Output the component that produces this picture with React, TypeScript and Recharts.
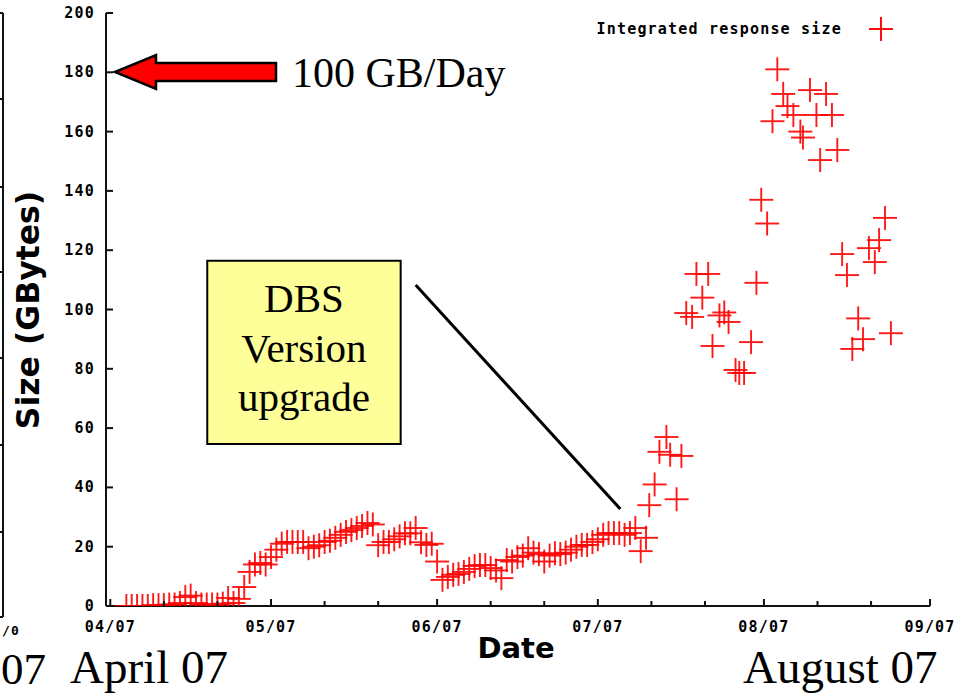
import { ScatterChart, Scatter, XAxis, YAxis, ReferenceArea, ReferenceLine } from 'recharts'

// days since 1 April 2007
const DAY = [
  3, 4, 5, 6, 7, 8, 9, 10, 11, 12, 13, 14, 15, 16, 17, 18, 19, 20, 21, 22,
  23, 24, 25, 26, 27, 28, 29, 30, 31, 32, 33, 34, 35, 36, 37, 38, 39, 40, 41, 42,
  43, 44, 45, 46, 47, 48, 49, 50, 51, 52, 53, 54, 55, 56, 57, 58, 59, 60, 61, 62,
  63, 64, 65, 66, 67, 68, 69, 70, 71, 72, 73, 74, 75, 76, 77, 78, 79, 80, 81, 82,
  83, 84, 85, 86, 87, 88, 89, 90, 91, 92, 93, 94, 95, 96, 97, 98, 99, 100,
  100.6, 101.6, 102.5, 103.8, 104.5, 105.7, 106.6, 107.5, 108.6, 109.4, 110.5, 111.6, 112.4, 113.7, 114.6, 115.4,
  116.7, 117.4, 118.3, 119.6, 120.6, 121.5, 122.6, 123.6, 124.5, 125.6, 126.4, 127.5, 128.8, 129.3, 130.6, 131.8,
  132.5, 133.6, 134.7, 135.7, 136.6, 137.5, 138.5, 139.6, 140.5, 141.6, 142.7, 143.5, 144.6, 145.7,
]

// integrated response size, GBytes
const GB = [
  0, 0, 0, 0, 0, 0.3, 0.3, 0.3, 0.5, 0.5, 1, 3, 3.5, 1, 0.5, 0.5, 0.5, 0.5, 0.8, 2.7,
  1, 2.4, 6.4, 11.5, 14, 14.5, 14, 16.5, 19, 21, 21.6, 21.6, 21.6, 21.6, 19.5, 20, 20.5, 21.6, 22, 23,
  24, 25, 25.6, 26.3, 27, 28, 27.5, 20.5, 21.6, 21.6, 22.5, 23.5, 24.5, 24.5, 26.3, 21.5, 20.6, 21, 15, 8.8,
  9.8, 10.5, 10.8, 11.5, 12.5, 13.5, 13.8, 13.8, 12.8, 12, 9.4, 15.5, 15, 16.5, 17, 19.5, 18, 17.5, 15, 17,
  17.8, 17.5, 18, 19, 20, 20.6, 20.6, 21.6, 22.5, 24, 24.6, 24.6, 24.6, 24, 24.6, 26.3, 18.5, 23,
  34, 41, 52, 57, 51, 36, 50.6, 98.8, 97.5, 112, 104, 112, 87.7, 98, 99, 95.8,
  79.6, 78.6, 78.6, 89, 109, 137, 129, 163.5, 181, 172.7, 168.6, 165.6, 160, 158, 174, 165.6,
  150.4, 172.7, 165.6, 153.8, 118.7, 111.6, 86.7, 97, 90, 120.7, 116, 123.4, 130.9, 92,
]

const MONTH_DAYS = [0, 30, 61, 91, 122, 153]
const MONTH_LABELS = ['04/07', '05/07', '06/07', '07/07', '08/07', '09/07']
const MINOR_DAYS = [10, 20, 40, 50, 71, 81, 101, 111, 132, 142]
const Y_TICKS = [0, 20, 40, 60, 80, 100, 120, 140, 160, 180, 200]

const points = DAY.map((d, i) => ({ day: d, size: GB[i] }))
const X_TICKS = [...MONTH_DAYS, ...MINOR_DAYS].sort((a, b) => a - b)
const X_DOMAIN = [-0.8, 153]

const RED = '#ff0000'
const AXIS = '#111'
const TICK_FONT = { fontFamily: '"DejaVu Sans Mono", monospace', fontWeight: 700, fontSize: 15, letterSpacing: 1.2, fill: '#000' }
const SERIF = '"Liberation Serif", "Times New Roman", serif'

const Plus = (p: any) => (
  <g stroke={RED} strokeWidth={1.9} opacity={0.9}>
    <line x1={p.cx - 12} x2={p.cx + 12} y1={p.cy} y2={p.cy} />
    <line x1={p.cx} x2={p.cx} y1={p.cy - 12} y2={p.cy + 12} />
  </g>
)

const BottomTick = ({ x, y, payload }: any) => {
  const i = MONTH_DAYS.indexOf(payload.value)
  return (
    <g>
      <line x1={x} x2={x} y1={y} y2={y - (i >= 0 ? 7 : 5)} stroke={AXIS} strokeWidth={2} />
      {i >= 0 && <text x={x} y={y + 26} textAnchor="middle" {...TICK_FONT}>{MONTH_LABELS[i]}</text>}
    </g>
  )
}

const TopTick = ({ x, y, payload }: any) => {
  const major = MONTH_DAYS.includes(payload.value)
  return <line x1={x} x2={x} y1={y} y2={y + (major ? 7 : 5)} stroke={AXIS} strokeWidth={2} />
}

const LeftTick = ({ x, y, payload }: any) => (
  <g>
    <line x1={x} x2={x + 7} y1={y} y2={y} stroke={AXIS} strokeWidth={2} />
    <text x={x - 11} y={y + 5} textAnchor="end" {...TICK_FONT}>{payload.value}</text>
  </g>
)

const RightTick = ({ x, y }: any) => (
  <line x1={x - 6} x2={x} y1={y} y2={y} stroke={AXIS} strokeWidth={2} />
)

const BoxLabel = (props: any) => {
  const vb = props.viewBox || {}
  const cx = vb.x + vb.width / 2
  return (
    <text textAnchor="middle" fontFamily={SERIF} fontSize={41} fill="#000">
      <tspan x={cx} y={vb.y + 51}>DBS</tspan>
      <tspan x={cx} y={vb.y + 101}>Version</tspan>
      <tspan x={cx} y={vb.y + 150}>upgrade</tspan>
    </text>
  )
}

export default function App() {
  return (
    <div style={{ position: 'absolute', left: 0, top: 0, width: 972, height: 695, background: '#fff', overflow: 'hidden' }}>
      <ScatterChart width={972} height={695} margin={{ top: 13, right: 42, bottom: 59, left: 46 }}>
        <XAxis dataKey="day" type="number" domain={X_DOMAIN} ticks={X_TICKS} allowDataOverflow
          height={30} tickSize={0} tickMargin={0} tick={BottomTick} axisLine={{ stroke: AXIS, strokeWidth: 2 }} />
        <XAxis xAxisId="t" orientation="top" type="number" domain={X_DOMAIN} ticks={X_TICKS} allowDataOverflow
          height={0} tickSize={0} tickMargin={0} tick={TopTick} axisLine={{ stroke: AXIS, strokeWidth: 2 }} />
        <YAxis dataKey="size" type="number" domain={[0, 200]} ticks={Y_TICKS} allowDataOverflow
          width={60} tickSize={0} tickMargin={0} tick={LeftTick} axisLine={{ stroke: AXIS, strokeWidth: 2 }} />
        <YAxis yAxisId="r" orientation="right" type="number" domain={[0, 200]} ticks={Y_TICKS} allowDataOverflow
          width={0} tickSize={0} tickMargin={0} tick={RightTick} axisLine={{ stroke: AXIS, strokeWidth: 2 }} />
        <Scatter data={points} shape={Plus} isAnimationActive={false} />
        <ReferenceArea x1={18.1} x2={54.2} y1={54.6} y2={116.4} ifOverflow="visible"
          fill="#ffff99" fillOpacity={1} stroke="#000" strokeWidth={2} label={{ content: BoxLabel }} />
        <ReferenceLine segment={[{ x: 57, y: 108.3 }, { x: 95.2, y: 32.7 }]} ifOverflow="visible"
          stroke="#000" strokeWidth={3} />
      </ScatterChart>

      <svg width={972} height={695} style={{ position: 'absolute', left: 0, top: 0, pointerEvents: 'none' }}>
        {/* legend */}
        <text x={842} y={34} textAnchor="end" {...TICK_FONT}>Integrated response size</text>
        <g stroke={RED} strokeWidth={1.9}>
          <line x1={869} x2={893} y1={29} y2={29} />
          <line x1={881} x2={881} y1={17} y2={41} />
        </g>

        {/* arrow to 180 */}
        <polygon points="115,72 156,55 156,63 276,63 276,81 156,81 156,89" fill={RED} stroke="#000" strokeWidth={2.5} strokeLinejoin="miter" />
        <text x={292} y={87} fontFamily={SERIF} fontSize={42} fill="#000">100 GB/Day</text>

        {/* edge of the previous plot */}
        <line x1={3} x2={3} y1={13} y2={617} stroke={AXIS} strokeWidth={2} />
        <line x1={0} x2={3} y1={617} y2={617} stroke={AXIS} strokeWidth={2} />
        {[13, 99, 187, 272, 358, 445, 532].map(t => (
          <line key={t} x1={0} x2={3} y1={t} y2={t} stroke={AXIS} strokeWidth={2} />
        ))}
        <text x={2} y={635} {...TICK_FONT} fontSize={13}>/0</text>

        {/* axis titles */}
        <text x={0} y={0} transform="translate(39,310) rotate(-90)" textAnchor="middle"
          fontFamily='"DejaVu Sans", sans-serif' fontWeight={700} fontSize={31.5} fill="#000">Size (GBytes)</text>
        <text x={516} y={658} textAnchor="middle"
          fontFamily='"DejaVu Sans", sans-serif' fontWeight={700} fontSize={29} fill="#000">Date</text>

        {/* slide captions */}
        <text x={1} y={684} fontFamily={SERIF} fontSize={45} fill="#000">07</text>
        <text x={70} y={683} fontFamily={SERIF} fontSize={47} fill="#000">April 07</text>
        <text x={743} y={683} fontFamily={SERIF} fontSize={47} fill="#000">August 07</text>
      </svg>
    </div>
  )
}
